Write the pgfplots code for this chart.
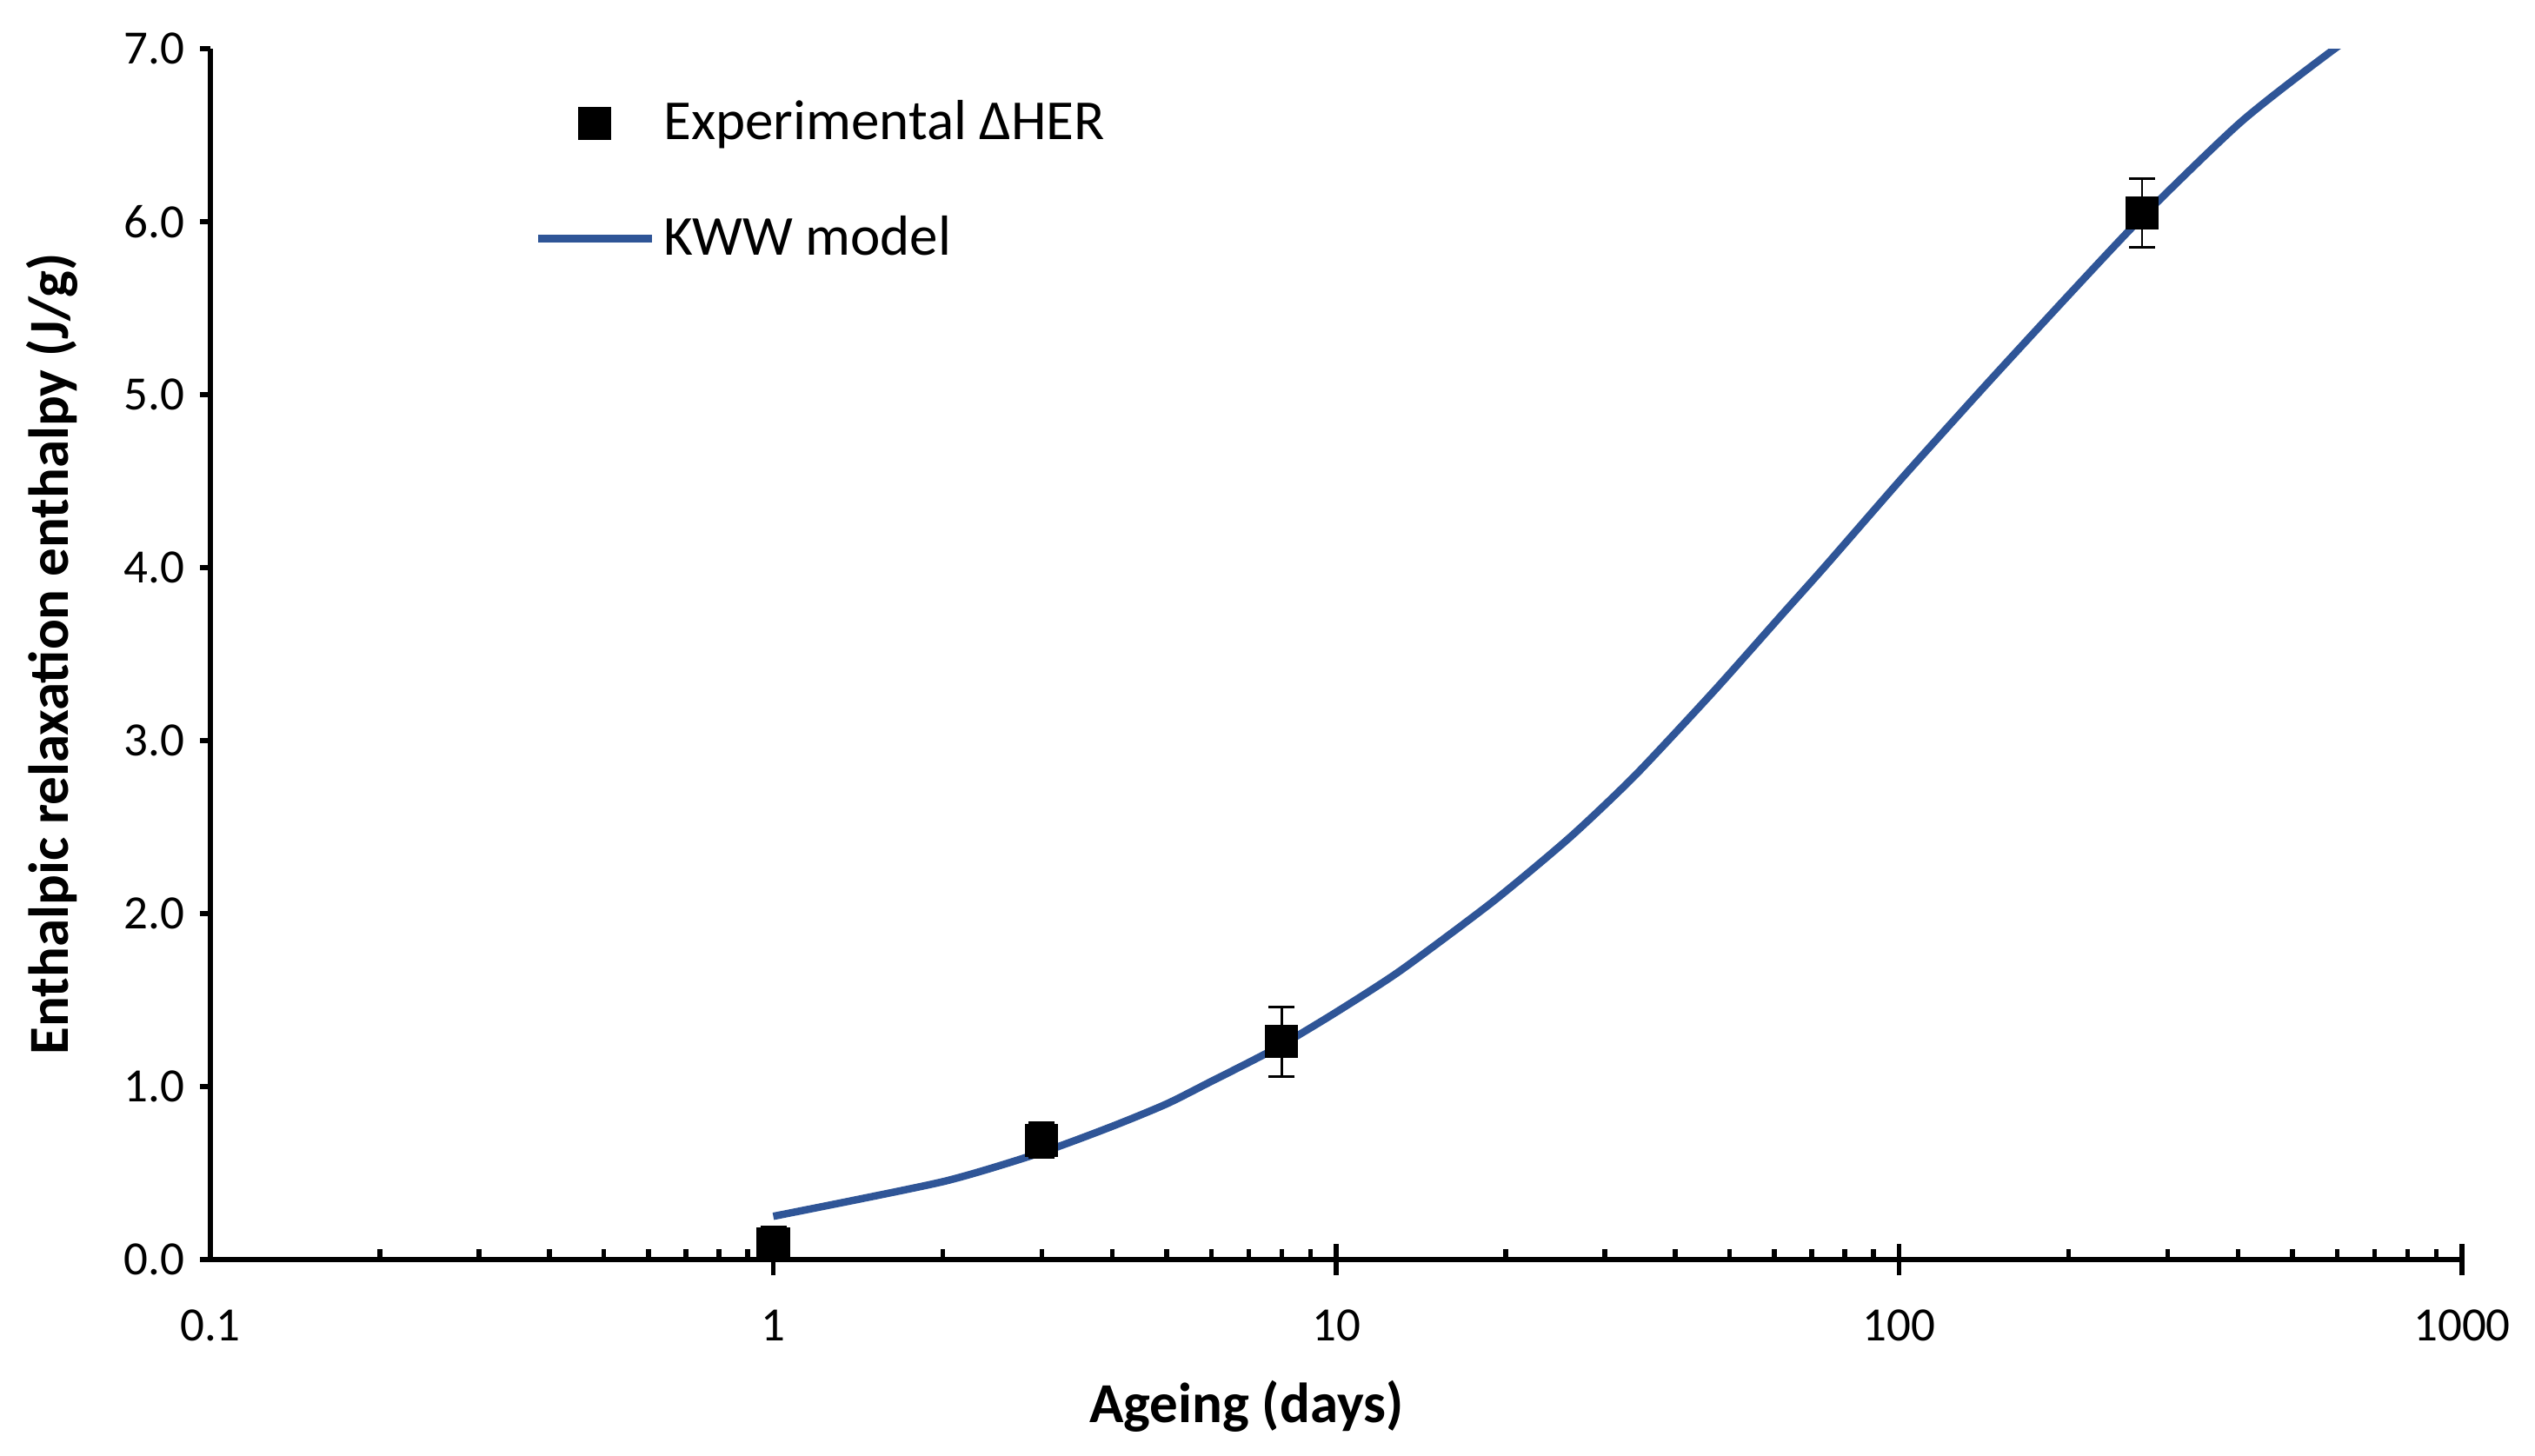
\documentclass[border=0pt]{standalone}
\usepackage{pgfplots}
\pgfplotsset{compat=1.18}
\usepackage{fontspec}
\setmainfont{Carlito}
\definecolor{kww}{HTML}{2F5597}

\begin{document}
\begin{tikzpicture}
\begin{axis}[
    scale only axis, width=518pt, height=278.6pt,
    xmode=log, log basis x=10,
    xmin=0.1, xmax=1000, ymin=0, ymax=7,
    axis x line*=bottom, axis y line*=left,
    axis line style={line width=1.2pt},
    clip mode=individual,
    /pgf/number format/assume math mode=true,
    xtick={0.1,1,10,100,1000}, xticklabels={0.1,1,10,100,1000},
    minor xtick={0.2,0.3,0.4,0.5,0.6,0.7,0.8,0.9,
                 2,3,4,5,6,7,8,9,
                 20,30,40,50,60,70,80,90,
                 200,300,400,500,600,700,800,900},
    extra x ticks={1,10,100,1000}, extra x tick labels={},
    extra x tick style={xtick align=center, major tick length=7.2pt},
    ytick={0,1,2,3,4,5,6,7},
    yticklabel style={/pgf/number format/.cd, fixed, fixed zerofill, precision=1},
    xticklabel style={yshift=-8pt},
    xtick align=inside, ytick align=outside,
    major tick length=2.4pt, minor tick length=2.4pt,
    every tick/.style={black, line width=1.1pt},
    tick label style={font=\fontsize{11}{13}\selectfont},
    xlabel={Ageing (days)}, ylabel={Enthalpic relaxation enthalpy (J/g)},
    label style={font=\fontsize{13}{15}\selectfont\bfseries},
    xlabel style={at={(axis description cs:0.4602,-0.1213)}, anchor=center},
    ylabel style={at={(axis description cs:-0.0703,0.5)}, anchor=center},
    reverse legend,
    legend style={draw=none, fill=none, at={(0.1436,0.965)}, anchor=north west,
        inner sep=0pt, row sep=12pt, font=\fontsize{13}{15}\selectfont},
    legend cell align=left,
    legend image code/.code={\draw[mark repeat=2,mark phase=2,#1]
        plot coordinates {(0pt,0pt) (13pt,0pt) (26pt,0pt)};},
]
\coordinate (o) at (rel axis cs:0,0);
% KWW model curve
\addplot[kww, line width=1.7pt, no marks, smooth, tension=0.4] coordinates {
    (1,0.25) (2,0.45) (3,0.62) (4,0.77) (5,0.90) (6,1.03) (7,1.14) (8,1.24)
    (10,1.43) (13,1.67) (19,2.07) (26,2.44) (34,2.80) (47,3.29) (62,3.73)
    (74,4.01) (102,4.53) (143,5.06) (202,5.59) (271,6.03) (406,6.58)
    (600,7.01) (1000,7.52)
};
\addlegendentry{KWW model}
% experimental points
\addplot[black, only marks, mark=square*, mark size=3.6pt,
    error bars/.cd, y dir=both, y explicit,
    error bar style={line width=0.5pt, black},
    error mark options={rotate=90, mark size=3pt, line width=0.6pt}]
    coordinates {
    (1,0.09) +- (0,0.1)
    (3,0.69) +- (0,0.1)
    (8,1.26) +- (0,0.2)
    (270,6.05) +- (0,0.2)
};
\addlegendentry{Experimental ΔHER}
\end{axis}
\pgfresetboundingbox
\path (o) ++(-48.4pt,289.8pt) rectangle ++(583.2pt,-334.8pt);
\end{tikzpicture}
\end{document}
